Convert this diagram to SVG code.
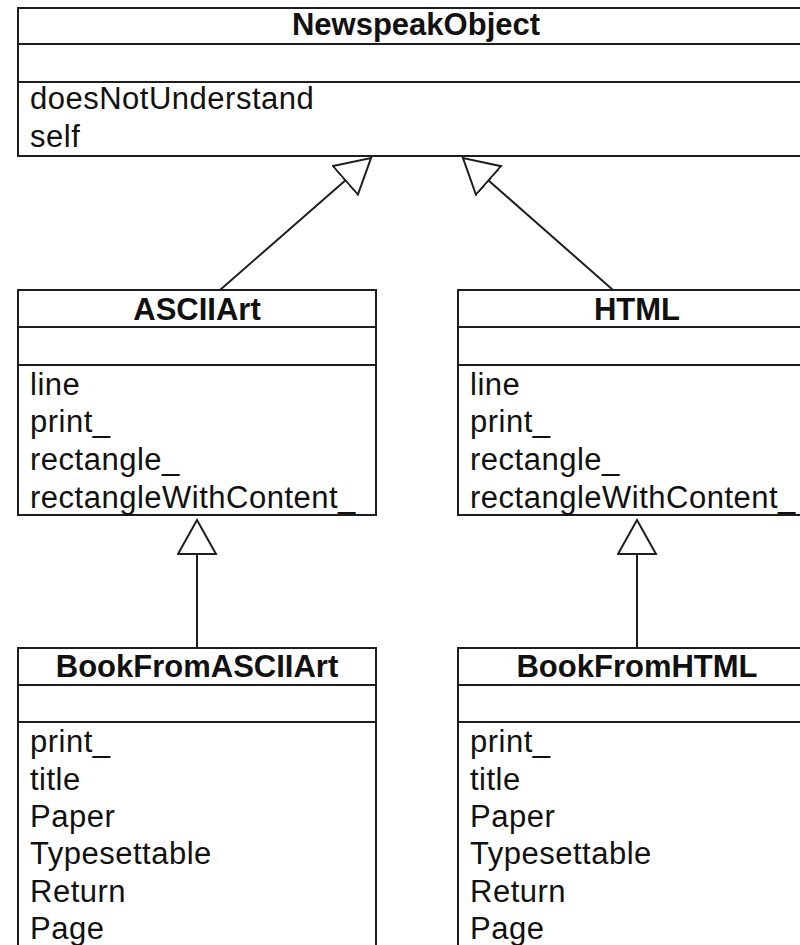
<svg xmlns="http://www.w3.org/2000/svg" width="800" height="945" viewBox="0 0 800 945">
  <style>
    .box { fill: #ffffff; stroke: #1e1e1e; stroke-width: 2; }
    .sep { stroke: #1e1e1e; stroke-width: 2; }
    .title { font-family: "Liberation Sans", Arial, sans-serif; font-size: 31px; font-weight: bold; fill: #111; text-anchor: middle; }
    .member { font-family: "Liberation Sans", Arial, sans-serif; font-size: 31px; letter-spacing: 0.5px; fill: #111; }
    .link { fill: none; stroke: #1e1e1e; stroke-width: 2; marker-end: url(#inherit); }
  </style>
  <defs>
    <!-- hollow generalization triangle -->
    <marker id="inherit" markerUnits="userSpaceOnUse" markerWidth="40" markerHeight="42" refX="35" refY="20" orient="auto" viewBox="0 0 40 42">
      <path d="M1,1 L35,20 L1,39 Z" fill="#ffffff" stroke="#1e1e1e" stroke-width="2" stroke-linejoin="miter"/>
    </marker>
  </defs>
  <rect width="800" height="945" fill="#ffffff"/>

  <g id="connectors">
    <path class="link" d="M220,290 L371,158"/>
    <path class="link" d="M613,290 L463,158"/>
    <path class="link" d="M197,647 L197,520"/>
    <path class="link" d="M637,647 L637,520"/>
  </g>

  <g id="NewspeakObject">
    <rect class="box" x="18" y="8" width="796" height="148"/>
    <line class="sep" x1="18" y1="44" x2="814" y2="44"/>
    <line class="sep" x1="18" y1="82" x2="814" y2="82"/>
    <text class="title" x="416" y="35">NewspeakObject</text>
    <text class="member" x="30" y="109">doesNotUnderstand</text>
    <text class="member" x="30" y="147">self</text>
  </g>

  <g id="ASCIIArt">
    <rect class="box" x="18" y="290" width="358" height="225"/>
    <line class="sep" x1="18" y1="327" x2="376" y2="327"/>
    <line class="sep" x1="18" y1="365" x2="376" y2="365"/>
    <text class="title" x="197" y="320">ASCIIArt</text>
    <text class="member" x="30" y="395">line</text>
    <text class="member" x="30" y="432">print_</text>
    <text class="member" x="30" y="470">rectangle_</text>
    <text class="member" x="30" y="508">rectangleWithContent_</text>
  </g>

  <g id="HTML">
    <rect class="box" x="458" y="290" width="358" height="225"/>
    <line class="sep" x1="458" y1="327" x2="816" y2="327"/>
    <line class="sep" x1="458" y1="365" x2="816" y2="365"/>
    <text class="title" x="637" y="320">HTML</text>
    <text class="member" x="470" y="395">line</text>
    <text class="member" x="470" y="432">print_</text>
    <text class="member" x="470" y="470">rectangle_</text>
    <text class="member" x="470" y="508">rectangleWithContent_</text>
  </g>

  <g id="BookFromASCIIArt">
    <rect class="box" x="18" y="648" width="358" height="320"/>
    <line class="sep" x1="18" y1="685" x2="376" y2="685"/>
    <line class="sep" x1="18" y1="722" x2="376" y2="722"/>
    <text class="title" x="197" y="677">BookFromASCIIArt</text>
    <text class="member" x="30" y="752">print_</text>
    <text class="member" x="30" y="790">title</text>
    <text class="member" x="30" y="827">Paper</text>
    <text class="member" x="30" y="864">Typesettable</text>
    <text class="member" x="30" y="902">Return</text>
    <text class="member" x="30" y="939">Page</text>
  </g>

  <g id="BookFromHTML">
    <rect class="box" x="458" y="648" width="358" height="320"/>
    <line class="sep" x1="458" y1="685" x2="816" y2="685"/>
    <line class="sep" x1="458" y1="722" x2="816" y2="722"/>
    <text class="title" x="637" y="677">BookFromHTML</text>
    <text class="member" x="470" y="752">print_</text>
    <text class="member" x="470" y="790">title</text>
    <text class="member" x="470" y="827">Paper</text>
    <text class="member" x="470" y="864">Typesettable</text>
    <text class="member" x="470" y="902">Return</text>
    <text class="member" x="470" y="939">Page</text>
  </g>
</svg>
